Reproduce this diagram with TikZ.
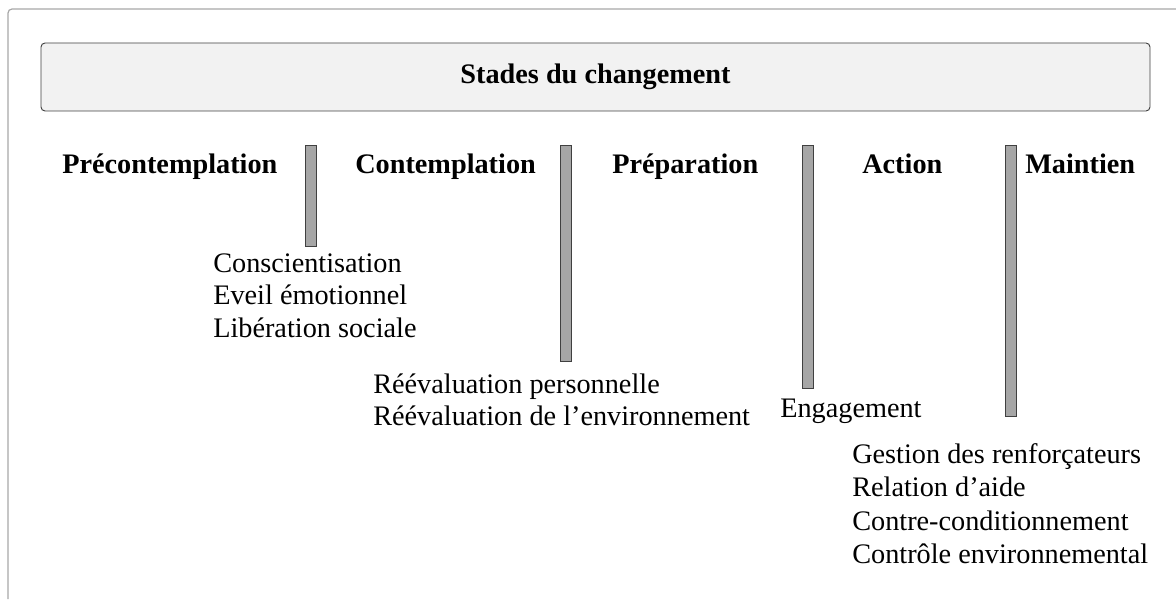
\documentclass[tikz,border=0pt]{standalone}
\usepackage{fontspec}
\setmainfont{Liberation Serif}
\definecolor{cadre}{HTML}{A8A8A8}
\definecolor{fondtitre}{HTML}{F2F2F2}
\definecolor{trait}{HTML}{404040}
\definecolor{barregris}{HTML}{A6A6A6}
\begin{document}
\begin{tikzpicture}[%
                x=0.75pt, y=-0.75pt,
                titre/.style={draw=trait, fill=fondtitre, rounded corners=3pt, line width=0.7pt,
                    minimum width=831.75pt, minimum height=51pt,
                    font=\bfseries\fontsize{21.2}{25}\selectfont},
                stade/.style={anchor=base west, inner sep=0pt, font=\bfseries\fontsize{21.2}{25}\selectfont},
                barre/.style={draw=trait, fill=barregris, anchor=north, inner sep=0pt,
                    minimum width=8.25pt, line width=0.6pt},
                processus/.style={anchor=base west, inner sep=0pt, font=\fontsize{21.2}{25}\selectfont}
            ]
            \useasboundingbox (0,0) rectangle (1176,599);
            \draw [cadre, line width=0.9pt, rounded corners=3pt] (1176,9) -- (8,9) -- (8,599);
            \node [titre] (titre) at (595.5,77) {Stades du changement};
            % les stades
            \node [stade] (precontemplation) at (62,173) {Précontemplation};
            \node [stade] (contemplation) at (355,173) {Contemplation};
            \node [stade] (preparation) at (612,173) {Préparation};
            \node [stade] (action) at (862,173) {Action};
            \node [stade] (maintien) at (1025,173) {Maintien};
            % les barres
            \node [barre, minimum height=75.75pt] (barre1) at (310.5,145) {};
            \node [barre, minimum height=162pt] (barre2) at (565.5,145) {};
            \node [barre, minimum height=182.25pt] (barre3) at (808,145) {};
            \node [barre, minimum height=203.25pt] (barre4) at (1010.5,145) {};
            % les processus
            \foreach \proc [count=\i] in {Conscientisation, Eveil émotionnel, Libération sociale}
                \node [processus] (pa\i) at (213,{272+32.5*(\i-1)}) {\proc};
            \foreach \proc [count=\i] in {Réévaluation personnelle, Réévaluation de l’environnement}
                \node [processus] (pb\i) at (373,{393+32.5*(\i-1)}) {\proc};
            \node [processus] (pc1) at (780,417) {Engagement};
            \foreach \proc [count=\i] in {Gestion des renforçateurs, Relation d’aide, Contre-conditionnement, Contrôle environnemental}
                \node [processus] (pd\i) at (852,{463+33.5*(\i-1)}) {\proc};
        \end{tikzpicture}
\end{document}
